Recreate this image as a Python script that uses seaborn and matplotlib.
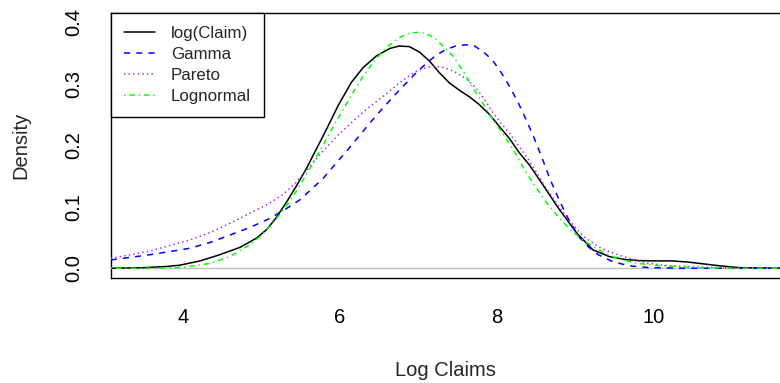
import matplotlib
matplotlib.use("Agg")
import matplotlib.pyplot as plt
import seaborn as sns
import pandas as pd

# Kernel density of the log claims
claim_x = [3.08, 3.5, 3.8, 3.96, 4.22, 4.47, 4.73, 4.94, 5.07, 5.19, 5.32, 5.45, 5.58,
           5.70, 5.81, 5.98, 6.15, 6.30, 6.47, 6.64, 6.76, 6.89, 7.02, 7.15, 7.27, 7.40,
           7.53, 7.66, 7.78, 7.91, 8.04, 8.17, 8.29, 8.42, 8.59, 8.80, 9.02, 9.23, 9.44,
           9.65, 9.82, 10.0, 10.24, 10.45, 10.65, 10.85, 11.1, 11.62]
claim_y = [0.000, 0.001, 0.003, 0.005, 0.012, 0.022, 0.034, 0.049, 0.063, 0.082, 0.107,
           0.134, 0.163, 0.193, 0.220, 0.264, 0.302, 0.326, 0.345, 0.357, 0.361, 0.360,
           0.351, 0.336, 0.318, 0.301, 0.289, 0.278, 0.266, 0.250, 0.230, 0.210, 0.188,
           0.168, 0.136, 0.096, 0.058, 0.030, 0.019, 0.014, 0.0125, 0.012, 0.012, 0.010,
           0.007, 0.004, 0.001, 0.000]

# Fitted gamma density
gamma_x = [3.08, 3.58, 4.09, 4.35, 4.60, 4.85, 5.11, 5.36, 5.49, 5.62, 5.79, 5.95, 6.10,
           6.25, 6.40, 6.55, 6.70, 6.85, 6.98, 7.10, 7.22, 7.35, 7.48, 7.61, 7.72, 7.83,
           7.95, 8.06, 8.16, 8.27, 8.38, 8.48, 8.58, 8.68, 8.80, 8.93, 9.06, 9.18, 9.30,
           9.48, 9.69, 9.95, 10.4, 11.62]
gamma_y = [0.0135, 0.022, 0.0325, 0.042, 0.054, 0.066, 0.081, 0.100, 0.111, 0.126, 0.146,
           0.170, 0.192, 0.215, 0.238, 0.260, 0.281, 0.301, 0.318, 0.332, 0.345, 0.355,
           0.361, 0.363, 0.361, 0.352, 0.338, 0.318, 0.297, 0.271, 0.241, 0.212, 0.180,
           0.146, 0.111, 0.077, 0.050, 0.034, 0.022, 0.011, 0.004, 0.001, 0.000, 0.000]

# Fitted Pareto density
pareto_x = [3.08, 3.58, 4.09, 4.35, 4.60, 4.85, 5.11, 5.28, 5.45, 5.60, 5.75, 5.88, 6.0,
            6.13, 6.25, 6.38, 6.51, 6.63, 6.76, 6.87, 6.98, 7.08, 7.19, 7.30, 7.40, 7.50,
            7.61, 7.70, 7.78, 7.87, 7.95, 8.05, 8.17, 8.29, 8.40, 8.50, 8.59, 8.70, 8.80,
            8.91, 9.02, 9.12, 9.23, 9.33, 9.44, 9.55, 9.65, 9.80, 9.95, 10.2, 10.59, 11.0,
            11.62]
pareto_y = [0.016, 0.028, 0.046, 0.058, 0.073, 0.089, 0.106, 0.120, 0.140, 0.162, 0.185,
            0.203, 0.219, 0.234, 0.248, 0.262, 0.275, 0.287, 0.301, 0.311, 0.320, 0.325,
            0.328, 0.327, 0.323, 0.317, 0.308, 0.298, 0.286, 0.270, 0.254, 0.237, 0.219,
            0.198, 0.178, 0.158, 0.139, 0.118, 0.100, 0.081, 0.064, 0.051, 0.041, 0.033,
            0.027, 0.022, 0.018, 0.012, 0.008, 0.004, 0.002, 0.0005, 0.000]

# Fitted lognormal density
lognormal_x = [3.08, 3.6, 3.9, 4.09, 4.35, 4.60, 4.85, 5.0, 5.11, 5.24, 5.36, 5.49, 5.62,
               5.75, 5.88, 6.0, 6.15, 6.30, 6.45, 6.60, 6.75, 6.87, 6.98, 7.08, 7.20, 7.32,
               7.45, 7.58, 7.70, 7.83, 7.95, 8.08, 8.22, 8.36, 8.50, 8.65, 8.80, 8.95, 9.10,
               9.25, 9.42, 9.60, 9.80, 10.0, 10.25, 10.6, 11.0, 11.62]
lognormal_y = [0.000, 0.000, 0.001, 0.003, 0.008, 0.019, 0.038, 0.053, 0.068, 0.088, 0.108,
               0.134, 0.162, 0.191, 0.221, 0.248, 0.281, 0.312, 0.338, 0.359, 0.374, 0.381,
               0.383, 0.382, 0.375, 0.361, 0.344, 0.319, 0.293, 0.267, 0.243, 0.219, 0.192,
               0.160, 0.132, 0.105, 0.082, 0.062, 0.046, 0.034, 0.022, 0.014, 0.008, 0.005,
               0.003, 0.001, 0.000, 0.000]

series_labels = ["log(Claim)", "Gamma", "Pareto", "Lognormal"]
x_ticks = [4, 6, 8, 10]
y_ticks = [0.0, 0.1, 0.2, 0.3, 0.4]

sns.set_style("white")
plt.rcParams["font.family"] = ["Liberation Sans", "DejaVu Sans"]

fig = plt.figure(figsize=(7.8, 3.83), dpi=100)
ax = fig.add_axes([111 / 780, 105 / 383, 669 / 780, 265 / 383])

ax.axhline(0, color="#BEBEBE", lw=1.0, zorder=1)

styles = [
    (claim_x, claim_y, "black", "-"),
    (gamma_x, gamma_y, "#0000FF", (0, (4, 4))),
    (pareto_x, pareto_y, "#A020F0", (0, (0.9, 2.1))),
    (lognormal_x, lognormal_y, "#00FF00", (0, (0.9, 2.6, 3.5, 2.6))),
]
for (xs, ys, col, ls), lab in zip(styles, series_labels):
    df = pd.DataFrame({"x": xs, "y": ys})
    sns.lineplot(data=df, x="x", y="y", ax=ax, color=col, linestyle=ls, lw=1.1,
                 label=lab, sort=False, estimator=None, zorder=3)

ax.set_xlim(3.083, 11.618)
ax.set_ylim(-0.0158, 0.4146)
ax.set_xticks(x_ticks)
ax.set_xticklabels([str(t) for t in x_ticks])
ax.set_yticks(y_ticks)
ax.set_yticklabels([f"{t:.1f}" for t in y_ticks], rotation=90, va="center")

ax.tick_params(axis="both", direction="out", length=9.4, width=1.0, color="black",
               labelsize=14.5, labelcolor="black")
ax.tick_params(axis="x", pad=12.5)
ax.tick_params(axis="y", pad=10.3)

for side in ["left", "bottom", "top"]:
    ax.spines[side].set_visible(True)
    ax.spines[side].set_color("black")
    ax.spines[side].set_linewidth(1.0)
ax.spines["right"].set_visible(False)

ax.set_xlabel("Log Claims", fontsize=14.5, labelpad=24.5)
ax.set_ylabel("Density", fontsize=14.5, labelpad=25)

leg = ax.legend(loc="upper left", bbox_to_anchor=(0, 1), borderaxespad=0,
                frameon=True, fancybox=False, edgecolor="black", fontsize=12.2,
                handlelength=1.83, handletextpad=0.95, borderpad=0.76,
                labelspacing=0.35, framealpha=1)
leg.get_frame().set_linewidth(1.0)

fig.savefig("out.png", dpi=100)
